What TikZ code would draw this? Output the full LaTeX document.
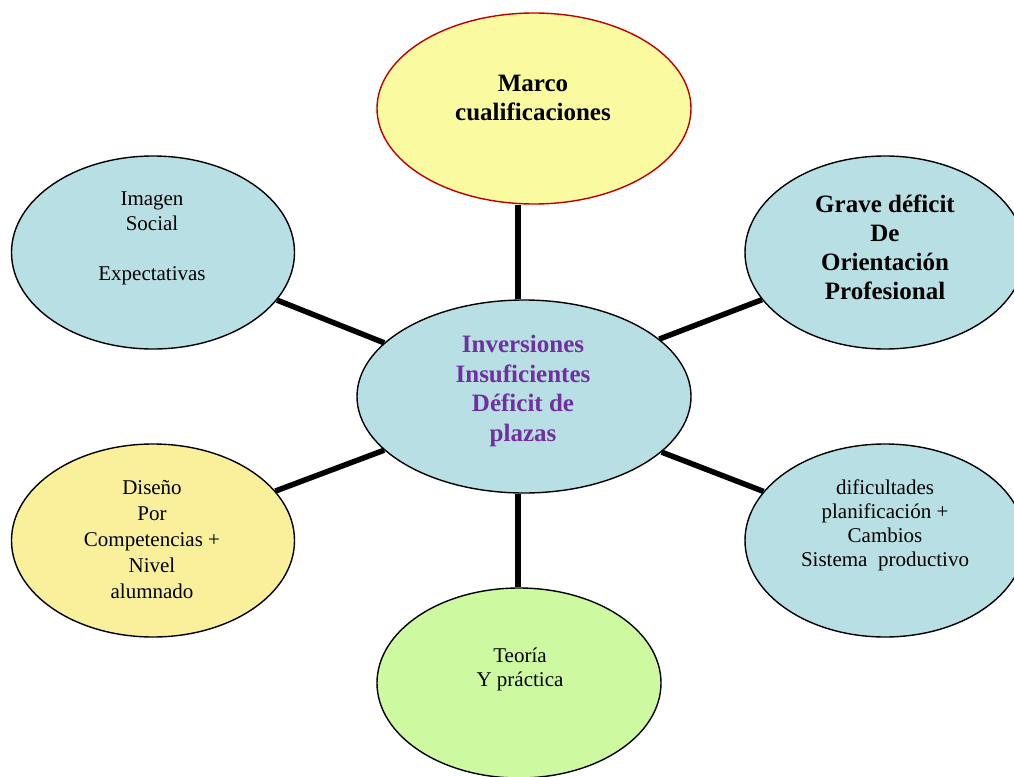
\documentclass[tikz,border=0pt]{standalone}
\usepackage{fontspec}
\setmainfont{Liberation Serif}
\usetikzlibrary{shapes.geometric}
\definecolor{paleblue}{RGB}{184,223,228}
\definecolor{paleyellow}{RGB}{250,250,160}
\definecolor{sandyellow}{RGB}{250,240,155}
\definecolor{palegreen}{RGB}{205,250,160}
\definecolor{plum}{RGB}{112,48,160}
\definecolor{rim}{RGB}{192,0,0}
\begin{document}
\begin{tikzpicture}[x=1pt,y=-1pt,
  bubble/.style={ellipse, draw=black, line width=1.4pt, inner sep=0pt},
  conn/.style={line width=5.5pt},
  plain/.style={font=\fontsize{21}{25}\selectfont, align=center, inner sep=0pt},
  strong/.style={font=\fontsize{25}{29.5}\selectfont\bfseries, align=center, inner sep=0pt}]
\useasboundingbox (0,0) rectangle (1014,776);
\clip (0,0) rectangle (1014,776);

% bubbles
\node[bubble, draw=rim, fill=paleyellow, minimum width=314pt, minimum height=191pt] (top) at (534,108.5) {};
\node[bubble, fill=paleblue, minimum width=334pt, minimum height=193pt] (c) at (524,396.5) {};
\node[bubble, fill=paleblue, minimum width=283pt, minimum height=193pt] (tl) at (153,252.5) {};
\node[bubble, fill=paleblue, minimum width=280pt, minimum height=193pt] (tr) at (885,252.5) {};
\node[bubble, fill=sandyellow, minimum width=283pt, minimum height=193pt] (bl) at (153,540.5) {};
\node[bubble, fill=paleblue, minimum width=280pt, minimum height=193pt] (br) at (885,540.5) {};
\node[bubble, fill=palegreen, minimum width=284pt, minimum height=190pt] (bot) at (519,683) {};

% spokes
\coordinate (vx) at (518,0);
\draw[conn] (c.north -| vx) -- (top.south -| vx);
\draw[conn] (c.south -| vx) -- (bot.north -| vx);
\draw[conn] (c.159) -- (tl.-21);
\draw[conn] (c.23) -- (tr.201);
\draw[conn] (c.201) -- (bl.22);
\draw[conn] (c.-22.5) -- (br.158.5);

% labels
\node[strong] (ttop) at (533,98) {Marco\\cualificaciones};
\node[strong, text=plum] (tc) at (523,391) {Inversiones\\Insuficientes\\Déficit de\\plazas};
\node[plain] (ttl) at (152,238) {Imagen\\Social\\[25pt]Expectativas};
\node[strong, font=\fontsize{25}{29}\selectfont\bfseries] (ttr) at (885,247) {Grave déficit\\De\\Orientación\\Profesional};
\node[plain, font=\fontsize{21}{26}\selectfont] (tbl) at (152,540) {Diseño\\Por\\Competencias +\\Nivel\\alumnado};
\node[plain, font=\fontsize{21}{24}\selectfont] (tbr) at (885,525) {dificultades\\planificación +\\Cambios\\Sistema~ productivo};
\node[plain, font=\fontsize{21}{24}\selectfont] (tbot) at (520,669) {Teoría\\Y práctica};
\end{tikzpicture}
\end{document}
